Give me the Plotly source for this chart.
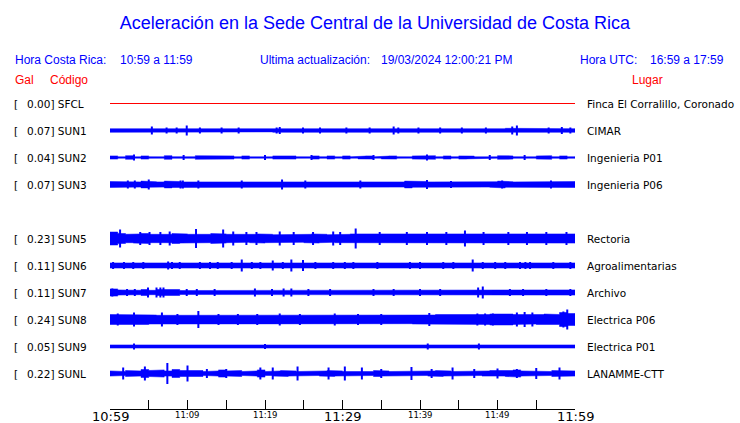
import plotly.graph_objects as go

# ---------------- data ----------------
CODES = ["SFCL", "SUN1", "SUN2", "SUN3", "SUN5", "SUN6", "SUN7", "SUN8", "SUN9", "SUNL"]
PLACES = ["Finca El Corralillo, Coronado", "CIMAR", "Ingenieria P01", "Ingenieria P06",
          "Rectoria", "Agroalimentarias", "Archivo", "Electrica P06", "Electrica P01",
          "LANAMME-CTT"]
PGA_GAL = [0.00, 0.07, 0.04, 0.07, 0.23, 0.11, 0.11, 0.24, 0.05, 0.22]
ROW = [0, 1, 2, 3, 5, 6, 7, 8, 9, 10]          # SUN4 slot (row 4) is empty

TICK_MIN = [0, 5, 10, 15, 20, 25, 30, 35, 40, 45, 50, 55, 60]
TICK_LABELS = ["10:59", "", "11:09", "", "11:19", "", "11:29", "", "11:39", "", "11:49", "", "11:59"]
TICK_BIG = [True, False, False, False, False, False, True, False, False, False, False, False, True]

# per-minute half envelope of each trace (display units)
ENV_SFCL = [0.0] * 60
ENV_SUN1 = [1.8, 1.6, 1.4, 1.3, 1.8, 2.0, 1.6, 1.8, 1.4, 2.0, 1.8, 1.6, 1.8, 1.8, 1.6, 2.0, 1.8, 1.6, 1.8, 1.8,
            1.4, 1.8, 1.6, 1.8, 1.6, 2.0, 1.8, 1.6, 1.8, 1.8, 1.6, 1.8, 1.8, 1.6, 1.8, 2.0, 1.8, 1.6, 1.8, 1.8,
            1.8, 1.8, 1.6, 1.8, 1.8, 1.8, 1.6, 1.8, 1.8, 1.6, 1.8, 2.2, 1.8, 1.6, 1.6, 1.8, 1.8, 1.8, 1.8, 1.8]
ENV_SUN2 = [1.6, 0.7, 1.8, 0.7, 1.6, 0.8, 0.7, 1.8, 0.8, 0.7, 0.8, 1.8, 1.6, 1.8, 1.6, 1.6, 0.8, 1.6, 0.7, 1.4,
            0.7, 1.6, 1.8, 1.6, 0.8, 0.7, 1.6, 0.8, 1.6, 0.7, 1.6, 0.7, 1.4, 1.6, 0.7, 1.4, 1.6, 0.8, 0.7, 1.6,
            1.6, 1.8, 0.8, 1.6, 0.8, 1.6, 1.4, 0.7, 1.4, 0.7, 1.8, 1.6, 0.8, 1.4, 0.7, 1.6, 1.8, 0.8, 1.6, 0.8]
ENV_SUN3 = [3.0, 2.6, 2.8, 2.6, 3.4, 2.8, 2.6, 3.4, 3.0, 2.6, 2.6, 2.8, 2.6, 2.8, 3.0, 2.6, 2.8, 2.6, 3.0, 2.8,
            2.6, 2.8, 2.6, 2.8, 3.0, 2.8, 2.6, 2.6, 2.8, 2.6, 2.8, 3.0, 2.6, 2.8, 2.6, 3.0, 2.8, 2.6, 3.4, 2.8,
            3.0, 2.6, 2.8, 3.0, 2.8, 2.6, 3.0, 2.8, 2.6, 2.8, 3.4, 2.8, 2.6, 3.0, 2.8, 2.6, 2.8, 3.0, 2.8, 3.0]
ENV_SUN5 = [6.5, 5.0, 4.2, 4.6, 5.0, 4.2, 4.6, 4.2, 5.0, 4.6, 4.2, 4.6, 4.2, 5.0, 4.6, 4.2, 4.2, 3.8, 4.2, 4.6,
            4.2, 3.8, 4.2, 3.8, 3.8, 4.2, 4.6, 4.2, 3.8, 4.2, 4.2, 4.6, 4.6, 4.2, 4.2, 4.6, 4.2, 4.2, 4.6, 4.2,
            4.6, 4.2, 4.2, 4.6, 4.2, 4.6, 4.6, 4.2, 4.6, 4.2, 4.2, 4.6, 4.2, 4.6, 4.2, 4.6, 4.2, 4.6, 4.6, 4.6]
ENV_SUN6 = [2.6, 2.2, 2.2, 2.2, 2.2, 2.2, 2.6, 2.2, 2.2, 2.2, 2.2, 2.6, 2.2, 2.6, 2.2, 2.2, 2.6, 2.2, 2.6, 2.2,
            2.2, 2.2, 2.6, 2.2, 2.2, 2.2, 2.2, 2.6, 2.2, 2.2, 2.2, 2.6, 2.2, 2.2, 2.2, 2.2, 2.2, 2.6, 2.2, 2.2,
            2.6, 2.2, 2.6, 2.2, 2.2, 2.2, 2.2, 2.6, 2.2, 2.2, 2.6, 2.6, 2.6, 2.2, 2.2, 2.2, 2.2, 2.2, 2.2, 2.6]
ENV_SUN7 = [3.6, 2.6, 2.2, 2.2, 3.0, 2.2, 3.0, 2.6, 3.0, 2.0, 2.0, 2.0, 2.0, 2.2, 2.0, 2.2, 2.6, 2.0, 2.2, 2.0,
            2.0, 2.6, 2.2, 2.0, 2.0, 2.2, 2.0, 2.2, 2.0, 2.6, 2.2, 2.0, 2.2, 2.0, 2.6, 2.0, 2.2, 2.0, 2.0, 2.6,
            2.6, 2.0, 2.0, 2.2, 2.0, 2.0, 2.0, 2.2, 2.6, 2.0, 2.2, 2.2, 2.6, 2.0, 2.2, 2.2, 2.0, 2.6, 2.2, 2.6]
ENV_SUN8 = [5.0, 5.0, 4.5, 5.0, 5.0, 4.5, 4.2, 4.5, 4.2, 4.2, 4.2, 4.2, 4.2, 3.8, 4.2, 4.2, 4.2, 4.2, 3.8, 4.2,
            4.5, 4.2, 4.5, 4.2, 4.5, 4.2, 4.2, 4.2, 4.2, 3.8, 4.2, 4.2, 4.2, 4.2, 4.5, 4.2, 4.2, 4.2, 4.2, 4.5,
            4.5, 4.5, 5.0, 4.5, 5.0, 5.0, 4.5, 4.5, 5.0, 5.5, 6.0, 5.5, 5.0, 5.0, 4.5, 5.0, 5.5, 5.0, 7.0, 6.0]
ENV_SUN9 = [1.6, 1.6, 1.6, 1.8, 1.6, 1.6, 1.6, 1.6, 1.6, 1.6, 1.6, 1.6, 1.6, 1.6, 1.6, 1.6, 1.6, 1.6, 1.6, 1.6,
            1.6, 1.6, 1.6, 1.6, 1.6, 1.6, 1.6, 1.6, 1.6, 1.6, 1.6, 1.6, 1.6, 1.6, 1.6, 1.6, 1.6, 1.6, 1.6, 1.6,
            1.6, 1.6, 1.6, 1.6, 1.6, 1.6, 1.6, 1.6, 1.6, 1.6, 1.6, 1.6, 1.6, 1.6, 1.6, 1.6, 1.6, 1.6, 1.6, 1.6]
ENV_SUNL = [2.6, 2.0, 3.0, 2.6, 4.0, 3.0, 3.6, 2.6, 4.0, 3.0, 2.6, 3.0, 2.0, 2.6, 3.6, 2.6, 3.0, 2.0, 2.6, 3.6,
            2.0, 2.6, 3.0, 2.6, 2.0, 2.6, 2.0, 2.6, 3.0, 2.6, 2.0, 2.6, 2.6, 2.0, 3.0, 2.6, 2.0, 2.6, 2.0, 2.6,
            2.0, 2.6, 3.0, 2.6, 2.0, 2.6, 2.6, 2.0, 2.6, 3.0, 2.6, 3.0, 3.6, 2.6, 2.0, 2.6, 2.0, 3.0, 2.6, 2.6]

# isolated peaks: (minute after 10:59, half amplitude)
SPK_SFCL = []
SPK_SUN1 = [(5.4, 4), (7.3, 3), (8.6, 3), (9.9, 5), (11.6, 3), (14.4, 3), (16.6, 3), (21.5, 3), (21.9, 3.5),
            (24.9, 3), (27.1, 3), (30.5, 3), (33.5, 3), (36.6, 4), (37.2, 3), (39.8, 3), (42.6, 3), (45.4, 3),
            (48.5, 3), (51.9, 4), (52.5, 5), (56.6, 3), (58.3, 3.5), (59.4, 3)]
SPK_SUN2 = [(3.1, 3), (9.5, 2.5), (20.0, 2.5), (26.0, 2.5), (34.0, 2.5), (40.9, 3), (49.0, 2.5), (53.5, 2.5)]
SPK_SUN3 = [(2.3, 4), (3.2, 4), (5.0, 5), (9.1, 4), (9.4, 4), (11.4, 4), (17.0, 4), (22.2, 5), (25.2, 4),
            (32.3, 4), (40.9, 4.5), (44.0, 3.5), (50.6, 4), (56.9, 4)]
SPK_SUN5 = [(1.3, 9), (3.9, 6.5), (5.1, 6.5), (6.5, 6.5), (7.7, 7), (11.1, 9.5), (14.6, 9), (15.9, 7),
            (17.6, 6.5), (18.9, 6.5), (21.9, 7), (23.7, 6.5), (26.2, 6.5), (28.8, 7), (29.7, 6.5), (31.7, 10),
            (34.8, 6.5), (38.3, 6.5), (40.9, 6.5), (43.4, 6.5), (45.8, 8), (48.2, 6.5), (51.4, 6.5),
            (53.8, 6.5), (56.3, 6.5), (58.9, 6.5)]
SPK_SUN6 = [(0.4, 3.5), (1.8, 3.5), (3.0, 3.5), (4.3, 3.5), (7.5, 4), (8.0, 3.5), (9.0, 3.5), (11.6, 3.5),
            (12.9, 3.5), (13.9, 3.5), (15.7, 3.5), (17.0, 6), (18.3, 3.5), (19.4, 3.5), (21.0, 5), (22.3, 3.5),
            (23.4, 6), (24.9, 5.5), (26.5, 3.5), (28.8, 3.5), (30.3, 3.5), (31.4, 3.5), (34.5, 3.5), (38.7, 3.5),
            (40.0, 3.5), (43.0, 3.5), (44.3, 3.5), (46.8, 6), (48.1, 3.5), (49.7, 3.5), (51.0, 3.5),
            (52.9, 3.5), (53.6, 3.5), (54.2, 3.5), (57.2, 3.5), (59.4, 3.5)]
SPK_SUN7 = [(0.3, 4), (2.2, 3.5), (3.2, 3.5), (4.9, 5), (6.0, 5), (6.5, 5), (6.9, 5), (9.9, 3.5), (11.2, 3.5),
            (13.5, 3.5), (18.7, 4), (20.9, 3.5), (22.4, 4), (23.4, 4), (25.6, 3.5), (28.4, 3.5), (34.0, 3.5),
            (36.6, 3.5), (40.0, 3.5), (42.6, 3.5), (47.5, 5), (48.1, 6), (51.6, 3.5), (53.3, 3.5), (56.3, 3.5),
            (59.4, 3.5)]
SPK_SUN8 = [(1.0, 6), (3.1, 7), (6.7, 7), (8.7, 5.5), (11.4, 8.5), (14.0, 5.5), (16.5, 5.5), (19.0, 5.5),
            (21.9, 6), (24.5, 5.5), (29.0, 6), (32.0, 5.5), (35.0, 5.5), (41.2, 6.5), (47.4, 6), (48.4, 6),
            (49.4, 6), (52.5, 7), (53.5, 7.5), (54.5, 7), (58.5, 8), (59.0, 10)]
SPK_SUN9 = [(3.1, 3), (20.0, 2.5), (41.0, 3), (47.6, 3)]
SPK_SUNL = [(1.7, 6), (4.5, 7), (7.4, 10.5), (10.0, 8), (12.5, 4.5), (15.0, 4.5), (19.4, 6), (21.0, 6),
            (24.2, 7), (28.2, 6), (30.3, 7), (32.5, 6), (35.0, 4.5), (38.9, 6.5), (41.5, 4.5), (44.2, 6),
            (47.0, 4.5), (50.0, 5), (52.5, 4.5), (55.0, 5.5), (58.0, 6)]

ENVS = [ENV_SFCL, ENV_SUN1, ENV_SUN2, ENV_SUN3, ENV_SUN5, ENV_SUN6, ENV_SUN7, ENV_SUN8, ENV_SUN9, ENV_SUNL]
SPKS = [SPK_SFCL, SPK_SUN1, SPK_SUN2, SPK_SUN3, SPK_SUN5, SPK_SUN6, SPK_SUN7, SPK_SUN8, SPK_SUN9, SPK_SUNL]

# ---------------- styling ----------------
BLUE = "#0000ff"
RED = "#ff0000"
AMP_PER_ROW = 27.0
W, H = 740, 423
ML, MR, MT, MB = 110, 165, 90, 14
PW = W - ML - MR
PH = H - MT - MB
Y_TOP = -0.5
Y_BOT = Y_TOP + PH / AMP_PER_ROW


def px_x(px):
    return (px - ML) / PW


def px_y(py):
    return (H - MB - py) / PH


fig = go.Figure()

for code, row, env, spk in zip(CODES, ROW, ENVS, SPKS):
    if max(env) == 0:
        fig.add_trace(go.Scatter(x=[0, 60], y=[row, row], mode="lines",
                                 line=dict(color=RED, width=1), hoverinfo="skip", showlegend=False))
        continue
    xs, up, lo = [], [], []
    for i, a in enumerate(env):
        xs += [i, i + 1]
        up += [row - a / AMP_PER_ROW] * 2
        lo += [row + a / AMP_PER_ROW] * 2
    fig.add_trace(go.Scatter(x=xs + xs[::-1], y=up + lo[::-1], mode="lines", fill="toself",
                             fillcolor=BLUE, line=dict(color=BLUE, width=0.5),
                             hoverinfo="skip", showlegend=False))
    sx, sy = [], []
    for m, a in spk:
        sx += [m, m, None]
        sy += [row - a / AMP_PER_ROW, row + a / AMP_PER_ROW, None]
    if sx:
        fig.add_trace(go.Scatter(x=sx, y=sy, mode="lines", line=dict(color=BLUE, width=2),
                                 hoverinfo="skip", showlegend=False))

ann = []
LBL_FONT = dict(family="DejaVu Sans", size=10.5, color="black")
for code, place, g, row in zip(CODES, PLACES, PGA_GAL, ROW):
    ann.append(dict(x=px_x(12), y=row, xref="paper", yref="y", text="[", showarrow=False,
                    xanchor="left", yanchor="middle", font=LBL_FONT))
    ann.append(dict(x=px_x(25), y=row, xref="paper", yref="y", text=f"{g:.2f}] {code}",
                    showarrow=False, xanchor="left", yanchor="middle", font=LBL_FONT))
    ann.append(dict(x=px_x(585), y=row, xref="paper", yref="y", text=place, showarrow=False,
                    xanchor="left", yanchor="middle", font=LBL_FONT))

HDR = dict(family="Liberation Sans", size=12, color=BLUE)
for txt, px, anchor in [("Hora Costa Rica:", 13, "left"), ("10:59 a 11:59", 118, "left"),
                        ("Ultima actualización:", 258, "left"), ("19/03/2024 12:00:21 PM", 379, "left"),
                        ("Hora UTC:", 578, "left"), ("16:59 a 17:59", 726, "right")]:
    ann.append(dict(x=px_x(px), y=px_y(60), xref="paper", yref="paper", text=txt, showarrow=False,
                    xanchor=anchor, yanchor="middle", font=HDR))
RHDR = dict(family="Liberation Sans", size=12, color=RED)
for txt, px, anchor in [("Gal", 13, "left"), ("Código", 48, "left"), ("Lugar", 647, "center")]:
    ann.append(dict(x=px_x(px), y=px_y(80), xref="paper", yref="paper", text=txt, showarrow=False,
                    xanchor=anchor, yanchor="middle", font=RHDR))

# axis labels (two sizes, as in the reference)
for m, lab, big in zip(TICK_MIN, TICK_LABELS, TICK_BIG):
    if not lab:
        continue
    ann.append(dict(x=m, xref="x", y=px_y(416 if big else 414.5), yref="paper", text=lab,
                    showarrow=False, xanchor="center", yanchor="middle",
                    font=dict(family="DejaVu Sans", size=13 if big else 8.5, color="black")))

fig.update_layout(
    width=W, height=H,
    margin=dict(l=ML, r=MR, t=MT, b=MB, autoexpand=False),
    paper_bgcolor="white", plot_bgcolor="white",
    title=dict(text="Aceleración en la Sede Central de la Universidad de Costa Rica",
               x=375 / W, xref="container", xanchor="center", y=1 - 23 / H, yref="container",
               yanchor="middle", font=dict(family="Liberation Sans", size=18, color=BLUE)),
    xaxis=dict(range=[0, 60], tickvals=TICK_MIN, showticklabels=False, ticks="inside", ticklen=9,
               tickcolor="black", tickwidth=1, showline=True, linecolor="black", linewidth=1,
               showgrid=False, zeroline=False, automargin=False),
    yaxis=dict(range=[Y_BOT, Y_TOP], visible=False, showgrid=False, zeroline=False),
    annotations=ann,
    showlegend=False,
)

fig.write_html("out.html", config={"displayModeBar": False},
               post_script="document.body.style.margin='0';document.body.style.overflow='hidden';")
